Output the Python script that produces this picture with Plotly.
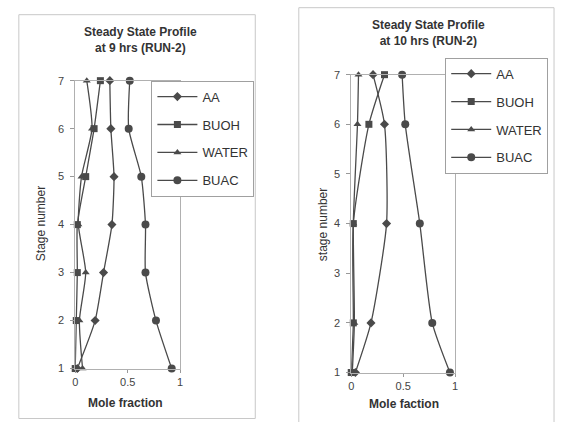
import plotly.graph_objects as go

# ---- data ----
series_names = ["AA", "BUOH", "WATER", "BUAC"]
symbols = ["diamond", "square", "triangle-up", "circle"]
marker_sizes = [7, 7, 7, 8]

stages_9h = [1, 2, 3, 4, 5, 6, 7]
aa_9h = [0.02, 0.19, 0.27, 0.35, 0.37, 0.34, 0.33]
buoh_9h = [0.00, 0.01, 0.02, 0.02, 0.10, 0.18, 0.24]
water_9h = [0.07, 0.04, 0.10, 0.03, 0.06, 0.16, 0.11]
buac_9h = [0.92, 0.77, 0.67, 0.67, 0.63, 0.51, 0.52]

stages_10h = [1, 2, 4, 6, 7]
aa_10h = [0.04, 0.19, 0.34, 0.32, 0.21]
buoh_10h = [0.00, 0.02, 0.02, 0.17, 0.32]
water_10h = [0.01, 0.03, 0.02, 0.06, 0.07]
buac_10h = [0.95, 0.78, 0.66, 0.52, 0.49]

x_ticks = [0, 0.5, 1]
x_tick_labels = ["0", "0.5", "1"]
y_ticks = [1, 2, 3, 4, 5, 6, 7]

W, H = 561, 422
FONT = "Liberation Sans, Arial, sans-serif"
DARK = "#4a4a4a"

fig = go.Figure()

sets = [
    (stages_9h, [aa_9h, buoh_9h, water_9h, buac_9h], "x", "y", "legend"),
    (stages_10h, [aa_10h, buoh_10h, water_10h, buac_10h], "x2", "y2", "legend2"),
]
for k, (stg, vals, xa, ya, lg) in enumerate(sets):
    for i, name in enumerate(series_names):
        fig.add_trace(go.Scatter(
            x=vals[i], y=stg, name=name, mode="lines+markers",
            xaxis=xa, yaxis=ya, legend=lg, legendgroup=f"{k}-{name}",
            line=dict(color=DARK, width=1.3, shape="spline", smoothing=0.6),
            marker=dict(symbol=symbols[i], size=marker_sizes[i], color=DARK),
            cliponaxis=False,
        ))

def px(xp):
    return xp / W

def py(yp):
    # compensate the vertical scaling observed in the rendered snapshot
    yc = (yp - 5.3) / 0.972
    return 1 - yc / H

axis_common = dict(
    range=[0, 1], tickvals=x_ticks, ticktext=x_tick_labels,
    showgrid=False, zeroline=False, showline=True, linecolor="#b0b0b0",
    linewidth=1, mirror=True, ticks="outside", ticklen=3, tickcolor="#999",
    tickfont=dict(family=FONT, size=11, color="#444"),
)
yaxis_common = dict(
    range=[1, 7], tickvals=y_ticks,
    showgrid=False, zeroline=False, showline=True, linecolor="#b0b0b0",
    linewidth=1, mirror=True, ticks="outside", ticklen=4, tickcolor="#999",
    ticklabelstandoff=4,
    tickfont=dict(family=FONT, size=11, color="#444"),
)

legend_common = dict(
    xanchor="left", yanchor="top", bgcolor="white",
    bordercolor="#a0a0a0", borderwidth=1,
    font=dict(family=FONT, size=13, color="#333"),
    tracegroupgap=8, itemwidth=40,
)

fig.update_layout(
    width=W, height=H, autosize=False,
    margin=dict(l=0, r=0, t=0, b=0),
    paper_bgcolor="white", plot_bgcolor="white",
    font=dict(family=FONT, color="#333"),
    showlegend=True,
    xaxis=dict(domain=[px(73), px(179)], anchor="y", **axis_common),
    yaxis=dict(domain=[py(368), py(80)], anchor="x", **yaxis_common),
    xaxis2=dict(domain=[px(352), px(457)], anchor="y2", **axis_common),
    yaxis2=dict(domain=[py(372), py(74)], anchor="x2", **yaxis_common),
    legend=dict(x=px(150), y=py(80), **legend_common),
    legend2=dict(x=px(447), y=py(57), **legend_common),
)

# outer chart frames
fig.add_shape(type="rect", xref="paper", yref="paper",
              x0=px(16), x1=px(255), y0=py(418), y1=py(14),
              line=dict(color="#c8c8c8", width=1), layer="below")
fig.add_shape(type="rect", xref="paper", yref="paper",
              x0=px(299), x1=px(557), y0=py(440), y1=py(7),
              line=dict(color="#c8c8c8", width=1), layer="below")

def ann(text, x, y, size=12, bold=True, angle=0):
    fig.add_annotation(
        text=f"<b>{text}</b>" if bold else text,
        x=px(x), y=py(y), xref="paper", yref="paper",
        xanchor="center", yanchor="middle", showarrow=False,
        textangle=angle, font=dict(family=FONT, size=size, color="#333"),
    )

ann("Steady State Profile<br>at 9 hrs (RUN-2)", 139, 39, size=12)
ann("Steady State Profile<br>at 10 hrs (RUN-2)", 430, 32, size=12)
ann("Stage number", 38, 223, size=12, bold=False, angle=-90)
ann("stage number", 323, 224, size=12, bold=False, angle=-90)
ann("Mole fraction", 124, 402, size=12)
ann("Mole faction", 405, 403, size=12)

post = (
    "document.documentElement.style.overflow='hidden';"
    "document.body.style.margin='0';"
    "document.body.style.overflow='hidden';"
)

fig.write_html(
    "out.html",
    config={"displayModeBar": False},
    post_script=post,
)
